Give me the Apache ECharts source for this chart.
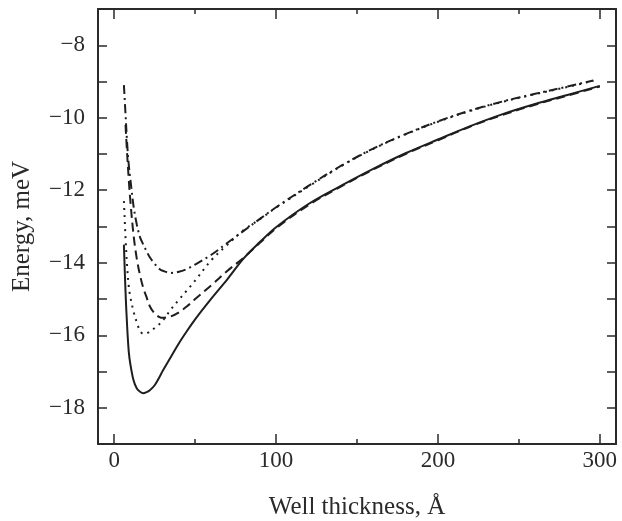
<!DOCTYPE html>
<html>
<head>
<meta charset="utf-8">
<script src="https://cdn.jsdelivr.net/npm/echarts@6/dist/echarts.min.js"></script>
<style>
  html, body { margin: 0; padding: 0; background: #fff; }
  #chart { width: 622px; height: 521px; }
</style>
</head>
<body>
<div id="chart"></div>
<script>
// Well thickness grid (Å)
const wellThickness = [6, 7, 8, 9, 10, 12, 14, 16, 18, 20, 22, 25, 28, 30, 35, 40, 45, 50, 60, 70, 80, 90, 100, 120, 140, 160, 180, 200, 220, 240, 260, 280, 296, 300];

// Energies (meV)
const solidEnergy   = [-13.5, -14.8, -15.75, -16.45, -16.8, -17.25, -17.47, -17.56, -17.6, -17.57, -17.52, -17.38, -17.15, -16.98, -16.6, -16.22, -15.88, -15.56, -14.99, -14.45, -13.88, -13.43, -13.02, -12.38, -11.88, -11.41, -10.98, -10.6, -10.23, -9.9, -9.62, -9.37, null, -9.12];
const dashedEnergy  = [null, -10.2, -11.0, -11.7, -12.3, -13.25, -13.9, -14.35, -14.7, -14.95, -15.2, -15.4, -15.5, -15.52, -15.48, -15.37, -15.2, -15.0, -14.62, -14.22, -13.86, -13.45, -13.05, -12.41, -11.9, -11.43, -11.0, -10.62, -10.24, -9.92, -9.64, -9.39, null, -9.14];
const dottedEnergy  = [-12.3, -13.3, -14.1, -14.65, -14.95, -15.35, -15.65, -15.88, -15.96, -15.95, -15.9, -15.8, -15.69, -15.6, -15.29, -15.02, -14.76, -14.49, -13.93, -13.5, -13.1, -12.8, -12.48, -11.9, -11.34, -10.86, -10.46, -10.11, -9.81, -9.56, -9.35, -9.15, -8.98, null];
const dashDotEnergy = [-9.1, -9.9, -10.7, -11.3, -11.7, -12.45, -12.95, -13.3, -13.5, -13.68, -13.85, -14.03, -14.17, -14.22, -14.28, -14.25, -14.17, -14.05, -13.78, -13.45, -13.12, -12.79, -12.47, -11.88, -11.33, -10.85, -10.45, -10.1, -9.8, -9.55, -9.34, -9.14, -8.97, null];

// Tick values / labels
const xMajorTicks = [0, 100, 200, 300];
const xMinorTicks = [50, 150, 250];
const yLabelValues = [-18, -16, -14, -12, -10, -8];

const FONT = 'Liberation Serif';
const INK = '#2a2a2a';

function pairs(ys) {
  return wellThickness.map((x, i) => [x, ys[i]]);
}

function xAxisDef(pos, ticks, len, withLabel, withLine) {
  return {
    type: 'value', min: -10, max: 310, position: pos,
    axisLine: { show: withLine, onZero: false, lineStyle: { color: INK, width: 2 } },
    axisTick: { show: true, inside: true, length: len, customValues: ticks, lineStyle: { color: INK, width: 1.5 } },
    axisLabel: withLabel ? { show: true, customValues: ticks, margin: 5, color: INK, fontFamily: FONT, fontSize: 23 } : { show: false },
    splitLine: { show: false }
  };
}

function yAxisDef(pos, withLabel) {
  return {
    type: 'value', min: -19, max: -7, interval: 1, position: pos,
    axisLine: { show: true, onZero: false, lineStyle: { color: INK, width: 2 } },
    axisTick: { show: true, inside: true, length: 9, lineStyle: { color: INK, width: 1.5 } },
    axisLabel: withLabel ? {
      show: true, customValues: yLabelValues, margin: 13, color: INK, fontFamily: FONT, fontSize: 23,
      formatter: v => (v < 0 ? '\u2212' + Math.abs(v) : String(v))
    } : { show: false },
    splitLine: { show: false }
  };
}

const xMain = xAxisDef('bottom', xMajorTicks, 10, true, true);
xMain.name = 'Well thickness, \u00C5';
xMain.nameLocation = 'middle';
xMain.nameGap = 51;
xMain.nameTextStyle = { color: INK, fontFamily: FONT, fontSize: 25 };

const yMain = yAxisDef('left', true);
yMain.name = 'Energy, meV';
yMain.nameLocation = 'middle';
yMain.nameGap = 63;
yMain.nameTextStyle = { color: INK, fontFamily: FONT, fontSize: 25 };

function lineSeries(ys, type) {
  return {
    type: 'line', data: pairs(ys), xAxisIndex: 0, yAxisIndex: 0,
    showSymbol: false, connectNulls: true, smooth: 0.35,
    lineStyle: { color: '#1e1e1e', width: 2, type: type },
    silent: true, animation: false
  };
}

const chart = echarts.init(document.getElementById('chart'), null, { renderer: 'canvas' });
chart.setOption({
  backgroundColor: '#fff',
  animation: false,
  grid: { left: 98, right: 6, top: 9, bottom: 77, containLabel: false, outerBoundsMode: 'none' },
  xAxis: [
    xMain,
    xAxisDef('bottom', xMinorTicks, 5, false, false),
    xAxisDef('top', xMajorTicks, 10, false, true),
    xAxisDef('top', xMinorTicks, 5, false, false)
  ],
  yAxis: [yMain, yAxisDef('right', false)],
  series: [
    lineSeries(solidEnergy, 'solid'),
    lineSeries(dashedEnergy, [9, 5]),
    lineSeries(dottedEnergy, [2, 5]),
    lineSeries(dashDotEnergy, [9, 4, 2, 4])
  ]
});
</script>
</body>
</html>
